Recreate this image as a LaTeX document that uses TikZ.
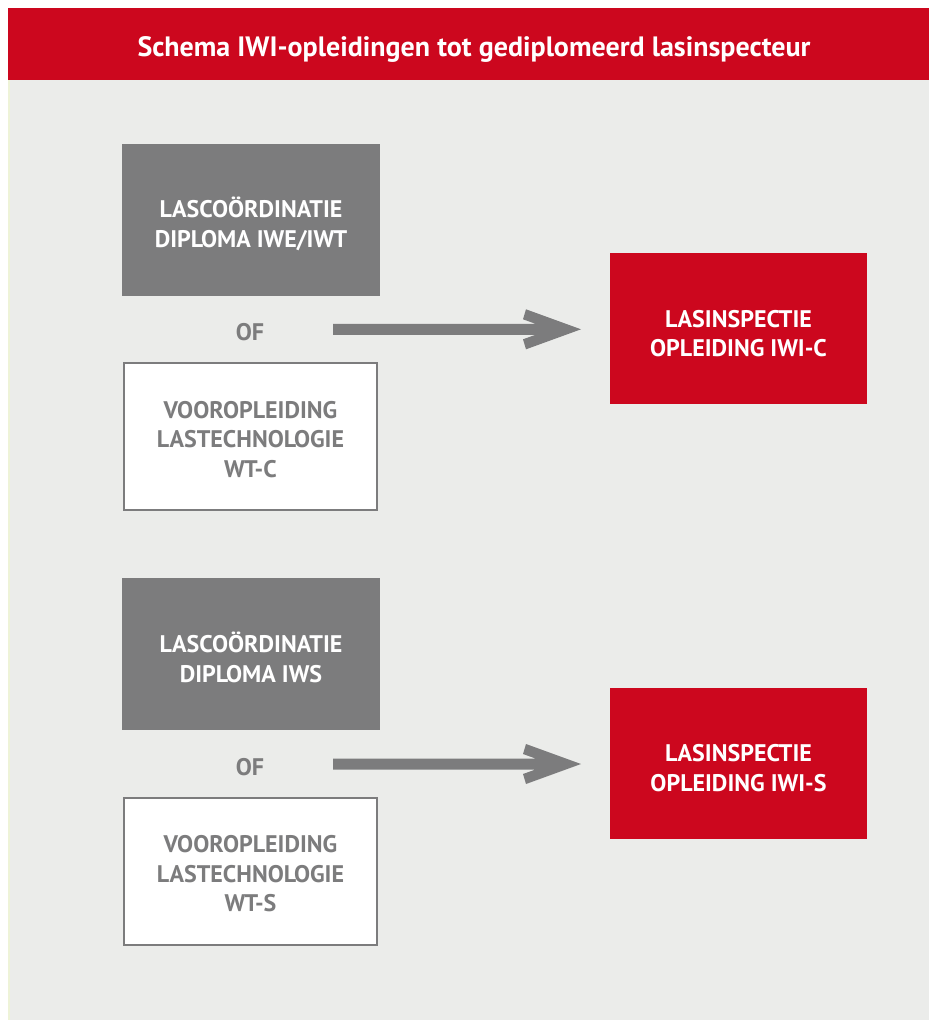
\documentclass[tikz,border=0pt]{standalone}
\usepackage{fontspec}
\setmainfont{PT Sans}
\usetikzlibrary{calc}
\definecolor{hdred}{HTML}{CC071E}
\definecolor{boxgray}{HTML}{7C7C7D}
\definecolor{bggray}{HTML}{EBECEA}
\definecolor{edgeyel}{HTML}{EEF3D8}
\tikzset{
  lbl/.style={font=\bfseries\fontsize{24}{29.5}\selectfont, align=center, inner sep=0pt},
  graybox/.style={fill=boxgray, minimum width=258pt, minimum height=152pt, inner sep=0pt},
  whitebox/.style={fill=white, draw=boxgray, line width=2pt, minimum width=253pt, minimum height=147pt, inner sep=0pt},
  redbox/.style={fill=hdred, minimum width=257pt, minimum height=151pt, inner sep=0pt},
  wtxt/.style={lbl, text=white},
  gtxt/.style={lbl, text=boxgray},
  oftext/.style={lbl, text=boxgray},
  arrowshape/.style={fill=boxgray, draw=none}
}
\newcommand{\fatarrow}[2]{%
  \fill[arrowshape] ($(#1)+(0,-5.5)$) -- ($(#2)+(-45.5,-5.5)$) -- ($(#2)+(-58,-10)$) -- ($(#2)+(-55,-20)$) -- (#2) -- ($(#2)+(-55,20)$) -- ($(#2)+(-58,10)$) -- ($(#2)+(-45.5,5.5)$) -- ($(#1)+(0,5.5)$) -- cycle;}
\begin{document}
\begin{tikzpicture}[x=1pt,y=-1pt]
\useasboundingbox (0,0) rectangle (929,1020);
\fill[white] (0,0) rectangle (929,1020);
\fill[edgeyel] (8,80) rectangle (929,1020);
\fill[bggray] (9.5,80) rectangle (929,1020);
\fill[hdred] (8,8) rectangle (929,80);
\node[font=\bfseries\fontsize{28}{32}\selectfont, text=white, inner sep=0pt] (title) at (474,49) {Schema IWI-opleidingen tot gediplomeerd lasinspecteur};
% group 1
\node[graybox, label={[wtxt, yshift=-4pt]center:{LASCOÖRDINATIE\\DIPLOMA IWE/IWT}}] (g1) at (251,220) {};
\node[oftext] (of1) at (250,332.5) {OF};
\node[whitebox, label={[gtxt, yshift=-3pt]center:{VOOROPLEIDING\\LASTECHNOLOGIE\\WT-C}}] (w1) at (250.5,436.5) {};
\node[redbox, label={[wtxt, yshift=-5pt]center:{LASINSPECTIE\\OPLEIDING IWI-C}}] (r1) at (738.5,328.5) {};
\coordinate (a1s) at (333,329.3);
\coordinate (a1e) at (581,329.3);
\fatarrow{a1s}{a1e}
% group 2
\node[graybox, label={[wtxt, yshift=-4pt]center:{LASCOÖRDINATIE\\DIPLOMA IWS}}] (g2) at (251,653.5) {};
\node[oftext] (of2) at (250,767.5) {OF};
\node[whitebox, label={[gtxt, yshift=-3pt]center:{VOOROPLEIDING\\LASTECHNOLOGIE\\WT-S}}] (w2) at (250.5,871) {};
\node[redbox, label={[wtxt, yshift=-5pt]center:{LASINSPECTIE\\OPLEIDING IWI-S}}] (r2) at (738.5,763) {};
\coordinate (a2s) at (333,764);
\coordinate (a2e) at (581,764);
\fatarrow{a2s}{a2e}
\end{tikzpicture}
\end{document}
